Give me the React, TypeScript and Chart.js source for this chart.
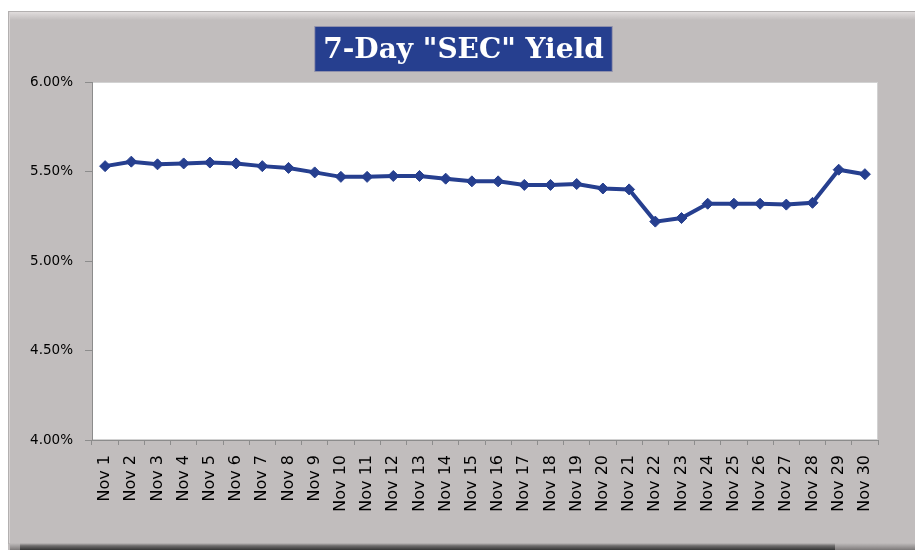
import React, { useEffect, useRef } from 'react';
import { Chart, registerables } from 'chart.js';

Chart.register(...registerables);

const TITLE = '7-Day "SEC" Yield';

const categories = [
  'Nov 1', 'Nov 2', 'Nov 3', 'Nov 4', 'Nov 5', 'Nov 6', 'Nov 7', 'Nov 8', 'Nov 9', 'Nov 10',
  'Nov 11', 'Nov 12', 'Nov 13', 'Nov 14', 'Nov 15', 'Nov 16', 'Nov 17', 'Nov 18', 'Nov 19', 'Nov 20',
  'Nov 21', 'Nov 22', 'Nov 23', 'Nov 24', 'Nov 25', 'Nov 26', 'Nov 27', 'Nov 28', 'Nov 29', 'Nov 30',
];

const yieldValues = [
  5.53, 5.555, 5.54, 5.545, 5.55, 5.545, 5.53, 5.52, 5.495, 5.47,
  5.47, 5.475, 5.475, 5.46, 5.445, 5.445, 5.425, 5.425, 5.43, 5.405,
  5.40, 5.22, 5.24, 5.32, 5.32, 5.32, 5.315, 5.325, 5.51, 5.485,
];

const yMin = 4;
const yMax = 6;
const yStep = 0.5;

const BG = '#c1bdbd';
const BLUE = '#263f8f';
const TITLE_SIZE = 28;
const TITLE_LH = 1.2;
const TITLE_PAD_TOP = 23;
const TITLE_PAD_BOTTOM = 14.4;
const BOX_CENTER_FROM_TOP = 38;
const TITLE_FONT = 'DejaVu Serif';

const framePlugin = {
  id: 'frame',
  afterLayout(chart: any) {
    // centre the title over the whole frame, not only the padded area
    const tb = chart.titleBlock;
    if (tb) {
      tb.left = 4;
      tb.right = chart.width;
      tb.width = tb.right - tb.left;
    }
  },
  beforeDraw(chart: any) {
    const { ctx, width, height, chartArea: a } = chart;
    ctx.save();
    ctx.fillStyle = BG;
    ctx.fillRect(0, 0, width, height);

    // top highlight band
    let g = ctx.createLinearGradient(0, 1, 0, 9);
    g.addColorStop(0, '#e0dcdc');
    g.addColorStop(1, BG);
    ctx.fillStyle = g;
    ctx.fillRect(1, 1, width - 1, 8);
    ctx.fillStyle = '#b3b0b0';
    ctx.fillRect(0, 0, width, 1);
    ctx.fillRect(0, 0, 1, height - 6);
    ctx.fillStyle = '#d8d4d4';
    ctx.fillRect(1, 1, 1, height - 8);

    // bottom shadow
    g = ctx.createLinearGradient(0, height - 7, 0, height);
    g.addColorStop(0, BG);
    g.addColorStop(0.4, '#6e6c6c');
    g.addColorStop(1, '#353535');
    ctx.fillStyle = g;
    ctx.fillRect(12, height - 7, 815, 7);
    g = ctx.createLinearGradient(0, height - 7, 0, height);
    g.addColorStop(0, BG);
    g.addColorStop(1, '#7d7a7a');
    ctx.fillStyle = g;
    ctx.fillRect(827, height - 7, width - 827, 7);
    ctx.fillRect(2, height - 7, 10, 7);

    // plot area
    ctx.fillStyle = '#ffffff';
    ctx.fillRect(a.left, a.top, a.right - a.left, a.bottom - a.top);
    ctx.strokeStyle = '#d2d2d2';
    ctx.lineWidth = 1;
    ctx.strokeRect(a.left + 0.5, a.top + 0.5, a.right - a.left - 1, a.bottom - a.top - 1);

    // title box
    const tb = chart.titleBlock;
    if (tb) {
      ctx.font = `bold ${TITLE_SIZE}px "${TITLE_FONT}"`;
      const tw = ctx.measureText(TITLE).width;
      const cy = tb.top + BOX_CENTER_FROM_TOP;
      const bw = tw + 16;
      const bh = 44;
      const cx = (tb.left + tb.right) / 2;
      ctx.fillStyle = '#8f90ab';
      ctx.fillRect(cx - bw / 2 - 1, cy - bh / 2 - 1, bw + 2, bh + 2);
      ctx.fillStyle = BLUE;
      ctx.fillRect(cx - bw / 2, cy - bh / 2, bw, bh);
    }
    ctx.restore();
  },
};

export default function App() {
  const ref = useRef<HTMLCanvasElement | null>(null);

  useEffect(() => {
    if (!ref.current) return;
    const chart = new Chart(ref.current, {
      type: 'line',
      data: {
        labels: categories,
        datasets: [
          {
            data: yieldValues,
            borderColor: BLUE,
            backgroundColor: BLUE,
            borderWidth: 4,
            tension: 0,
            pointStyle: 'rectRot',
            pointRadius: 5.5,
            pointBorderWidth: 1,
            pointBorderColor: BLUE,
            pointBackgroundColor: BLUE,
            fill: false,
          },
        ],
      },
      options: {
        responsive: false,
        animation: false,
        layout: { padding: { left: 0, right: 37, top: 0, bottom: 0 } },
        plugins: {
          legend: { display: false },
          tooltip: { enabled: false },
          title: {
            display: true,
            text: TITLE,
            color: '#ffffff',
            font: { family: TITLE_FONT, size: TITLE_SIZE, weight: 'bold', lineHeight: TITLE_LH },
            padding: { top: TITLE_PAD_TOP, bottom: TITLE_PAD_BOTTOM },
          },
        },
        scales: {
          x: {
            type: 'category',
            offset: true,
            grid: {
              display: true,
              offset: true,
              drawOnChartArea: false,
              tickLength: 5,
              color: '#8c8c8c',
            },
            border: { display: true, color: '#8c8c8c', width: 1 },
            ticks: {
              autoSkip: false,
              minRotation: 90,
              maxRotation: 90,
              padding: 10,
              color: '#000000',
              font: { family: 'DejaVu Sans', size: 16 },
            },
            afterFit(scale: any) {
              scale.height = 110;
            },
          },
          y: {
            min: yMin,
            max: yMax,
            grid: {
              display: true,
              drawOnChartArea: false,
              tickLength: 7,
              color: '#8c8c8c',
            },
            border: { display: true, color: '#8c8c8c', width: 1 },
            ticks: {
              stepSize: yStep,
              padding: 12,
              color: '#000000',
              font: { family: 'DejaVu Sans', size: 13.5 },
              callback: (v: any) => Number(v).toFixed(2) + '%',
            },
            afterFit(scale: any) {
              scale.width = 84;
            },
          },
        },
      },
      plugins: [framePlugin],
    });
    return () => chart.destroy();
  }, []);

  return (
    <div style={{ position: 'absolute', left: 8, top: 11, width: 907, height: 539 }}>
      <canvas ref={ref} width={907} height={539} style={{ display: 'block', width: 907, height: 539 }} />
    </div>
  );
}
